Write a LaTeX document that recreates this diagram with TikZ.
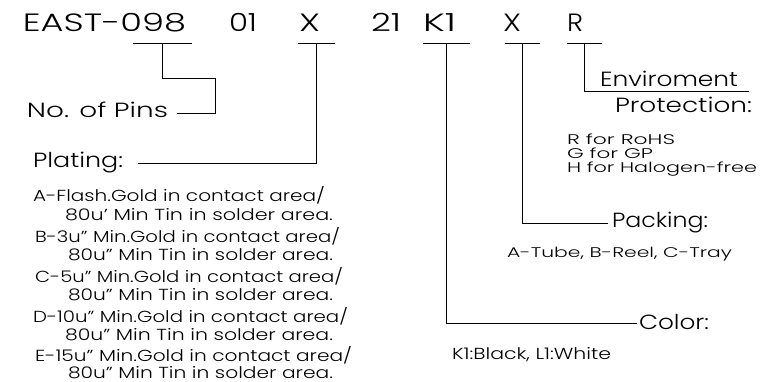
\documentclass[tikz,border=0pt]{standalone}
\usepackage{fontspec}
\IfFontExistsTF{Poppins Light}{\setmainfont{Poppins Light}}{\setmainfont{Poppins}}
\usepackage{graphicx}
\newcommand\fw[2]{\resizebox{#1pt}{\height}{#2}}
\newcommand\ftitle{\fontsize{25}{25}\selectfont}
\newcommand\fmed{\fontsize{20.5}{20.5}\selectfont}
\newcommand\fsml{\fontsize{16}{16}\selectfont}
\newcommand\ftiny{\fontsize{14}{14}\selectfont}
\begin{document}
\begin{tikzpicture}[x=1pt,y=-1pt,
  lbl/.style={anchor=base west,inner sep=0pt,outer sep=0pt},
  ln/.style={line width=1pt,line join=miter}]
\useasboundingbox (0,0) rectangle (776,382);
% title
\node[lbl,font=\ftitle] (t1) at (23,32) {\fw{163}{EAST-098}};
\node[lbl,font=\ftitle] (t2) at (229,32) {\fw{28}{01}};
\node[lbl,font=\ftitle] (t3) at (299,32) {\fw{21}{X}};
\node[lbl,font=\ftitle] (t4) at (371,32) {\fw{30}{21}};
\node[lbl,font=\ftitle] (t5) at (423,32) {\fw{33}{K1}};
\node[lbl,font=\ftitle] (t6) at (503,32) {\fw{18}{X}};
\node[lbl,font=\ftitle] (t7) at (567,32) {\fw{16}{R}};
% underline coordinates
\coordinate (uA1) at (133,44); \coordinate (uA2) at (192,44); \coordinate (sA) at (162,44);
\coordinate (uB1) at (298,44); \coordinate (uB2) at (335,44); \coordinate (sB) at (316,44);
\coordinate (uC1) at (423,44); \coordinate (uC2) at (470,44); \coordinate (sC) at (446,44);
\coordinate (uD1) at (505,44); \coordinate (uD2) at (540,44); \coordinate (sD) at (522,44);
\coordinate (uE1) at (567,44); \coordinate (uE2) at (602,44); \coordinate (sE) at (584,44);
\draw[ln] (uA1) -- (uA2);
\draw[ln] (uB1) -- (uB2);
\draw[ln] (uC1) -- (uC2);
\draw[ln] (uD1) -- (uD2);
\draw[ln] (uE1) -- (uE2);
% labels
\node[lbl,font=\fmed] (pins) at (27,118) {\fw{141}{No. of Pins}};
\node[lbl,font=\fmed] (plat) at (33,168) {\fw{90}{Plating:}};
\node[lbl,font=\fmed] (env) at (600,87) {\fw{138}{Enviroment}};
\node[lbl,font=\fmed] (prot) at (615,113) {\fw{137}{Protection:}};
\node[lbl,font=\fmed] (pack) at (612,228) {\fw{96}{Packing:}};
\node[lbl,font=\fmed] (col) at (639,329) {\fw{70}{Color:}};
% connector end points
\coordinate (pinsE) at (177,114);
\coordinate (platE) at (138,164);
\coordinate (packE) at (608,223);
\coordinate (colE) at (637,323);
\coordinate (envE) at (749,92);
\draw[ln] (sA) -- (162,79) -- (215,79) -- (215,114) -- (pinsE);
\draw[ln] (sB) |- (platE);
\draw[ln] (sD) |- (packE);
\draw[ln] (sC) |- (colE);
\draw[ln] (sE) |- (envE);
% right small text
\node[lbl,font=\ftiny] (r1) at (567,145) {\fw{108}{R for RoHS}};
\node[lbl,font=\ftiny] (r2) at (567,159) {\fw{86}{G for GP}};
\node[lbl,font=\ftiny] (r3) at (567,173) {\fw{190}{H for Halogen-free}};
\node[lbl,font=\ftiny] (pk) at (507,257) {\fw{225}{A-Tube, B-Reel, C-Tray}};
\node[lbl,font=\fsml] (cl) at (452,359) {\fw{159}{K1:Black, L1:White}};
% plating list
\node[lbl,font=\fsml] (p1) at (33,202) {\fw{292}{A-Flash.Gold in contact area/}};
\node[lbl,font=\fsml] (p2) at (65,221) {\fw{268}{80u’ Min Tin in solder area.}};
\node[lbl,font=\fsml] (p3) at (35,242) {\fw{305}{B-3u” Min.Gold in contact area/}};
\node[lbl,font=\fsml] (p4) at (68,260) {\fw{265}{80u” Min Tin in solder area.}};
\node[lbl,font=\fsml] (p5) at (35,282) {\fw{308}{C-5u” Min.Gold in contact area/}};
\node[lbl,font=\fsml] (p6) at (68,300) {\fw{265}{80u” Min Tin in solder area.}};
\node[lbl,font=\fsml] (p7) at (33,322) {\fw{315}{D-10u” Min.Gold in contact area/}};
\node[lbl,font=\fsml] (p8) at (65,340) {\fw{268}{80u” Min Tin in solder area.}};
\node[lbl,font=\fsml] (p9) at (35,361) {\fw{317}{E-15u” Min.Gold in contact area/}};
\node[lbl,font=\fsml] (p10) at (68,378) {\fw{265}{80u” Min Tin in solder area.}};
\end{tikzpicture}
\end{document}
